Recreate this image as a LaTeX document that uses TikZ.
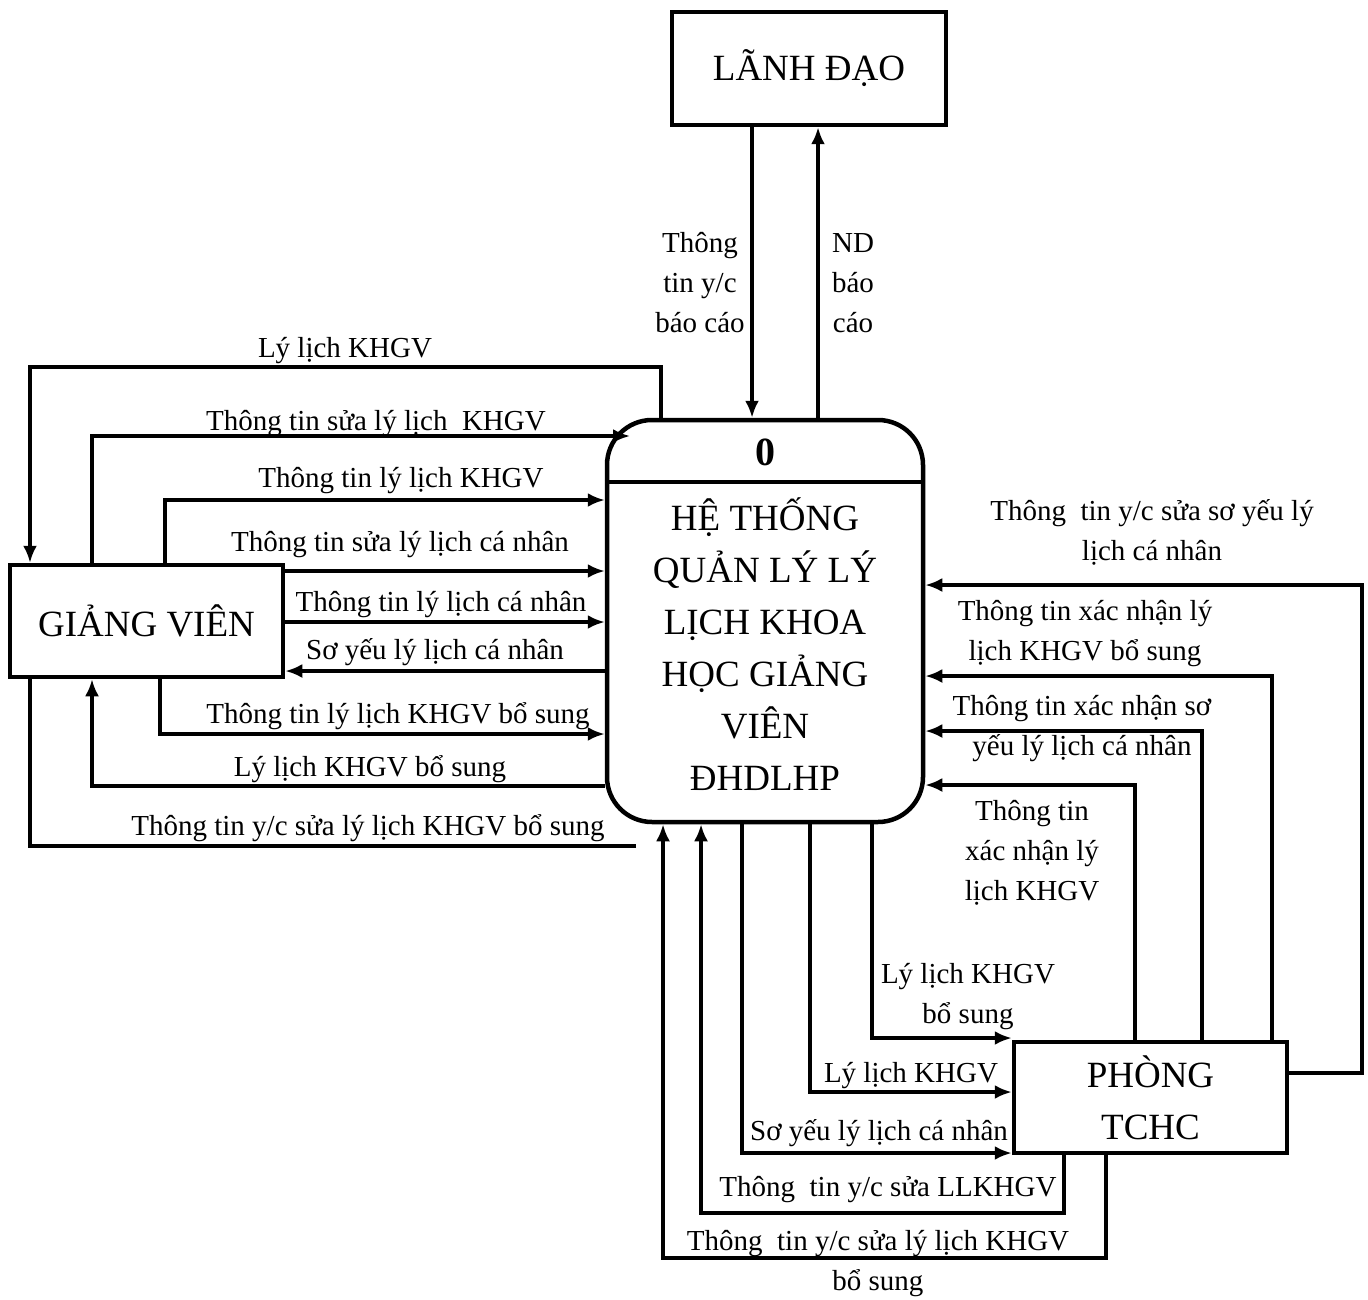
\documentclass[tikz,border=0pt]{standalone}
\usepackage{fontspec}
\setmainfont{Liberation Serif}
\usetikzlibrary{arrows.meta}
\newcommand\entfont{\fontsize{37}{52}\selectfont}
\newcommand\lblfont{\fontsize{29}{40}\selectfont}
\begin{document}
\begin{tikzpicture}[x=1pt,y=-1pt,
  entity/.style={draw, line width=4.5pt, rectangle, inner sep=0pt, align=center, font=\entfont},
  procbox/.style={draw, line width=4.5pt, rounded corners=45pt, inner sep=0pt},
  flow/.style={line width=3.3pt, -{Latex[length=17pt,width=14pt]}},
  plain/.style={line width=3.3pt},
  lbl/.style={inner sep=0pt, anchor=base, align=center, font=\lblfont},
]
\useasboundingbox (0,0) rectangle (1368,1300);

% external entities and the process (multi-line texts sit on the baseline of their last line)
\node[entity, minimum width=274pt, minimum height=113pt] (ld) at (809,68.5) {LÃNH ĐẠO};
\node[entity, minimum width=273pt, minimum height=112pt] (gv) at (146.5,621) {GIẢNG VIÊN};
\node[entity, minimum width=273pt, minimum height=111pt] (pt) at (1150.5,1097.5) {PHÒNG\\TCHC};
\node[procbox, minimum width=316pt, minimum height=402pt] (proc) at (765,621) {};
\draw[line width=4.5pt] (proc.west |- 0,482) -- (proc.east |- 0,482);
\node[lbl, font=\bfseries\fontsize{40}{40}\selectfont] (pnum) at (765,465) {0};
\node[lbl, font=\entfont] (ptitle) at (765,790) {HỆ THỐNG\\QUẢN LÝ LÝ\\LỊCH KHOA\\HỌC GIẢNG\\VIÊN\\ĐHDLHP};

% LÃNH ĐẠO flows
\draw[flow] (ld.south -| 752,0) -- (proc.north -| 752,0);
\draw[flow] (proc.north -| 818,0) -- (ld.south -| 818,0);
\node[lbl] (t1) at (700,332) {Thông\\tin y/c\\báo cáo};
\node[lbl] (t2) at (853,332) {ND\\báo\\cáo};

% GIẢNG VIÊN flows
\coordinate (corner) at (630,436);
\coordinate (loose) at (636,846);
\draw[flow] (proc.north -| 661,0) -- (661,367) -- (30,367) -- (gv.north -| 30,0);
\draw[flow] (gv.north -| 92,0) -- (92,436) -- (corner);
\draw[flow] (gv.north -| 165,0) -- (165,500) -- (proc.west |- 0,500);
\draw[flow] (gv.east |- 0,571) -- (proc.west |- 0,571);
\draw[flow] (gv.east |- 0,622) -- (proc.west |- 0,622);
\draw[flow] (proc.west |- 0,671) -- (gv.east |- 0,671);
\draw[flow] (gv.south -| 160,0) -- (160,734) -- (proc.west |- 0,734);
\draw[flow] (proc.west |- 0,786) -- (92,786) -- (gv.south -| 92,0);
\draw[plain] (loose) -- (30,846) -- (gv.south -| 30,0);

\node[lbl] (t3) at (345,357) {Lý lịch KHGV};
\node[lbl] (t4) at (376,430) {Thông tin sửa lý lịch~ KHGV};
\node[lbl] (t5) at (401,487) {Thông tin lý lịch KHGV};
\node[lbl] (t6) at (400,551) {Thông tin sửa lý lịch cá nhân};
\node[lbl] (t7) at (441,611) {Thông tin lý lịch cá nhân};
\node[lbl] (t8) at (435,659) {Sơ yếu lý lịch cá nhân};
\node[lbl] (t9) at (398,723) {Thông tin lý lịch KHGV bổ sung};
\node[lbl] (t10) at (370,776) {Lý lịch KHGV bổ sung};
\node[lbl] (t11) at (368,835) {Thông tin y/c sửa lý lịch KHGV bổ sung};

% PHÒNG TCHC flows
\draw[flow] (pt.east |- 0,1073) -- (1362,1073) -- (1362,585) -- (proc.east |- 0,585);
\draw[flow] (pt.north -| 1272,0) -- (1272,676) -- (proc.east |- 0,676);
\draw[flow] (pt.north -| 1202,0) -- (1202,731) -- (proc.east |- 0,731);
\draw[flow] (pt.north -| 1135,0) -- (1135,785) -- (proc.east |- 0,785);
\draw[flow] (proc.south -| 872,0) -- (872,1038) -- (pt.west |- 0,1038);
\draw[flow] (proc.south -| 810,0) -- (810,1092) -- (pt.west |- 0,1092);
\draw[flow] (proc.south -| 742,0) -- (742,1153) -- (pt.west |- 0,1153);
\draw[flow] (pt.south -| 1064,0) -- (1064,1213) -- (701,1213) -- (proc.south -| 701,0);
\draw[flow] (pt.south -| 1106,0) -- (1106,1258) -- (663,1258) -- (proc.south -| 663,0);

\node[lbl] (t12) at (1152,560) {Thông~ tin y/c sửa sơ yếu lý\\lịch cá nhân};
\node[lbl] (t13) at (1085,660) {Thông tin xác nhận lý\\lịch KHGV bổ sung};
\node[lbl] (t14) at (1082,755) {Thông tin xác nhận sơ\\yếu lý lịch cá nhân};
\node[lbl] (t15) at (1032,900) {Thông tin\\xác nhận lý\\lịch KHGV};
\node[lbl] (t16) at (968,1023) {Lý lịch KHGV\\bổ sung};
\node[lbl] (t17) at (911,1082) {Lý lịch KHGV};
\node[lbl] (t18) at (879,1140) {Sơ yếu lý lịch cá nhân};
\node[lbl] (t19) at (888,1196) {Thông~ tin y/c sửa LLKHGV};
\node[lbl] (t20) at (878,1290) {Thông~ tin y/c sửa lý lịch KHGV\\bổ sung};
\end{tikzpicture}
\end{document}
